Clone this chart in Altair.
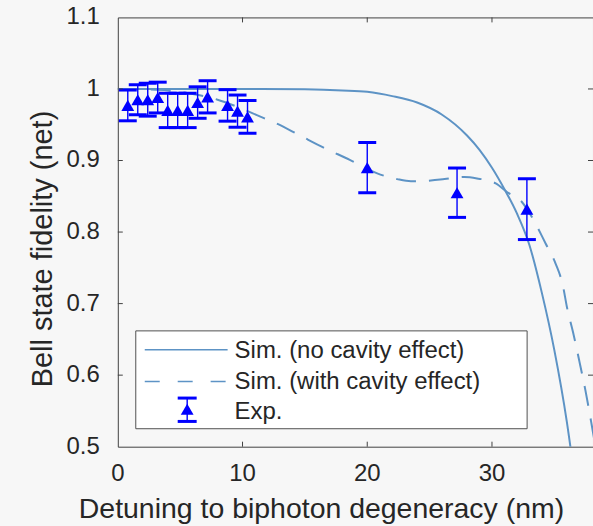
import altair as alt
import pandas as pd

# ---------------- data ----------------
# Simulation, no cavity effect (solid)
sim_x = [0, 10, 15, 18, 20, 22, 24, 26, 28, 29, 30, 31, 32, 33, 34, 35, 36, 36.6]
sim_y = [1.0, 1.0, 0.9995, 0.998, 0.996, 0.990, 0.981, 0.964, 0.935, 0.915, 0.890,
         0.860, 0.826, 0.782, 0.715, 0.635, 0.535, 0.46]

# Simulation, with cavity effect (dashed)
cav_x = [0, 2, 4, 6, 8, 10, 11.2, 12.7, 14.6, 16.5, 18.6, 20.8, 22.4, 23.5, 25.1,
         26.2, 27.8, 28.8, 30.3, 31.2, 32.4, 33.2, 34.3, 35.1, 35.7, 36.0, 36.5,
         37.0, 37.5, 38.0, 38.3]
cav_y = [1.0, 0.9995, 0.998, 0.993, 0.985, 0.972, 0.963, 0.952, 0.935, 0.918, 0.901,
         0.882, 0.874, 0.871, 0.872, 0.874, 0.877, 0.875, 0.868, 0.856, 0.842, 0.821,
         0.784, 0.756, 0.724, 0.696, 0.660, 0.620, 0.578, 0.530, 0.50]

# Experiment (triangles with error bars)
exp_x = [0.8, 1.6, 2.4, 3.2, 4.0, 4.8, 5.6, 6.4, 7.2, 8.8, 9.6, 10.4, 20.0, 27.2, 32.8]
exp_y = [0.977, 0.985, 0.985, 0.988, 0.970, 0.970, 0.970, 0.981, 0.989, 0.977, 0.969,
         0.961, 0.890, 0.855, 0.832]
exp_err = [0.0215, 0.021, 0.023, 0.0215, 0.024, 0.024, 0.024, 0.022, 0.0225, 0.022,
           0.0225, 0.023, 0.035, 0.0345, 0.0425]

x_ticks = [0, 10, 20, 30]
x_tick_labels = ["0", "10", "20", "30"]
y_ticks = [0.5, 0.6, 0.7, 0.8, 0.9, 1.0, 1.1]
y_tick_labels = ["0.5", "0.6", "0.7", "0.8", "0.9", "1", "1.1"]
x_inner_ticks = [10, 20, 30]
y_inner_ticks = [0.6, 0.7, 0.8, 0.9, 1.0]
legend_labels = ["Sim. (no cavity effect)", "Sim. (with cavity effect)", "Exp."]
x_title = "Detuning to biphoton degeneracy (nm)"
y_title = "Bell state fidelity (net)"

# ---------------- styling ----------------
W, H = 476, 430
FONT = "Liberation Sans"
LINE = "#5d93c5"
BLUE = "#0000ff"
AX = "#404040"
TXT = "#262626"
BG = "#f7f7f7"

xs = alt.Scale(domain=[0, 38.1], nice=False, zero=False)
ys = alt.Scale(domain=[0.5, 1.1], nice=False, zero=False)


def X(f):
    return alt.X(f, scale=xs, axis=None)


def Y(f):
    return alt.Y(f, scale=ys, axis=None)


solid = alt.Chart(pd.DataFrame({"x": sim_x, "y": sim_y})).mark_line(
    color=LINE, strokeWidth=2, clip=True, interpolate="monotone"
).encode(x=X("x:Q"), y=Y("y:Q"))

dashed = alt.Chart(pd.DataFrame({"x": cav_x, "y": cav_y})).mark_line(
    color=LINE, strokeWidth=2, clip=True, interpolate="monotone", strokeDash=[20, 13]
).encode(x=X("x:Q"), y=Y("y:Q"))

exp_df = pd.DataFrame({"x": exp_x, "y": exp_y, "err": exp_err})
exp_df["lo"] = exp_df["y"] - exp_df["err"]
exp_df["hi"] = exp_df["y"] + exp_df["err"]

bars = alt.Chart(exp_df).mark_rule(color=BLUE, strokeWidth=1.4).encode(
    x=X("x:Q"), y=Y("lo:Q"), y2="hi:Q")
cap_lo = alt.Chart(exp_df).mark_tick(color=BLUE, orient="horizontal", size=18,
                                     thickness=3, opacity=1).encode(x=X("x:Q"), y=Y("lo:Q"))
cap_hi = alt.Chart(exp_df).mark_tick(color=BLUE, orient="horizontal", size=18,
                                     thickness=3, opacity=1).encode(x=X("x:Q"), y=Y("hi:Q"))
pts = alt.Chart(exp_df).mark_point(shape="triangle-up", filled=True, color=BLUE,
                                   size=165, opacity=1).encode(x=X("x:Q"), y=Y("y:Q"))

# inward ticks (MATLAB box style)
tick_b = alt.Chart(pd.DataFrame({"t": x_inner_ticks})).mark_rule(color=AX, strokeWidth=1).encode(
    x=X("t:Q"), y=alt.value(H), y2=alt.value(H - 5))
tick_t = alt.Chart(pd.DataFrame({"t": x_inner_ticks})).mark_rule(color=AX, strokeWidth=1).encode(
    x=X("t:Q"), y=alt.value(0), y2=alt.value(5))
tick_l = alt.Chart(pd.DataFrame({"t": y_inner_ticks})).mark_rule(color=AX, strokeWidth=1).encode(
    y=Y("t:Q"), x=alt.value(0), x2=alt.value(5))
tick_r = alt.Chart(pd.DataFrame({"t": y_inner_ticks})).mark_rule(color=AX, strokeWidth=1).encode(
    y=Y("t:Q"), x=alt.value(W - 5), x2=alt.value(W))

# tick labels (placed through the scales)
xlab = alt.Chart(pd.DataFrame({"t": x_ticks, "lab": x_tick_labels})).mark_text(
    font=FONT, fontSize=24, color=TXT, align="center", baseline="top"
).encode(x=X("t:Q"), y=alt.value(H + 15), text="lab:N")
ylab = alt.Chart(pd.DataFrame({"t": y_ticks, "lab": y_tick_labels})).mark_text(
    font=FONT, fontSize=24, color=TXT, align="right", baseline="middle"
).encode(y=Y("t:Q"), x=alt.value(-18), text="lab:N")

xtitle = alt.Chart(pd.DataFrame({"s": [x_title]})).mark_text(
    font=FONT, fontSize=28.5, color=TXT, align="center", baseline="alphabetic"
).encode(x=alt.value(204), y=alt.value(H + 71), text="s:N")
ytitle = alt.Chart(pd.DataFrame({"s": [y_title]})).mark_text(
    font=FONT, fontSize=29, color=TXT, align="center", baseline="alphabetic", angle=270
).encode(x=alt.value(-66), y=alt.value(232), text="s:N")

# legend
one = pd.DataFrame({"k": [0]})
leg_box = alt.Chart(one).mark_rect(fill="#ffffff", stroke="#505050", strokeWidth=1).encode(
    x=alt.value(18), x2=alt.value(410), y=alt.value(314), y2=alt.value(412))
leg_solid = alt.Chart(one).mark_rule(color=LINE, strokeWidth=1.5).encode(
    x=alt.value(27), x2=alt.value(110), y=alt.value(333))
leg_dash = alt.Chart(one).mark_rule(color=LINE, strokeWidth=1.5, strokeDash=[15, 18]).encode(
    x=alt.value(27), x2=alt.value(110), y=alt.value(364.7))
leg_bar = alt.Chart(one).mark_rule(color=BLUE, strokeWidth=1.4).encode(
    x=alt.value(69.5), y=alt.value(381.3), y2=alt.value(404.7))
leg_cap1 = alt.Chart(one).mark_rule(color=BLUE, strokeWidth=3).encode(
    x=alt.value(60), x2=alt.value(79), y=alt.value(381.3))
leg_cap2 = alt.Chart(one).mark_rule(color=BLUE, strokeWidth=3).encode(
    x=alt.value(60), x2=alt.value(79), y=alt.value(404.7))
leg_pt = alt.Chart(one).mark_point(shape="triangle-up", filled=True, color=BLUE,
                                   size=165, opacity=1).encode(
    x=alt.value(69.5), y=alt.value(392.5))

leg_texts = []
for lbl, yy in zip(legend_labels, [333, 364.7, 394.7]):
    leg_texts.append(
        alt.Chart(pd.DataFrame({"label": [lbl]})).mark_text(
            font=FONT, fontSize=24, color=TXT, align="left", baseline="middle", dy=1
        ).encode(x=alt.value(117), y=alt.value(yy), text="label:N"))

chart = alt.layer(
    solid, dashed, bars, cap_lo, cap_hi, pts,
    tick_b, tick_t, tick_l, tick_r, xlab, ylab, xtitle, ytitle,
    leg_box, leg_solid, leg_dash, leg_bar, leg_cap1, leg_cap2, leg_pt, *leg_texts
).properties(
    width=W, height=H,
    autosize=alt.AutoSizeParams(type="none"),
    padding={"left": 118, "top": 17, "right": 0, "bottom": 79},
    background=BG,
).configure_view(stroke=AX, strokeWidth=1, fill=BG)

chart.save("out.html", embed_options={"renderer": "svg", "actions": False})
